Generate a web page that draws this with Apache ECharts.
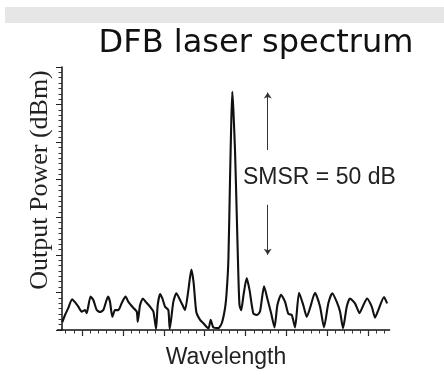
<!DOCTYPE html>
<html><head><meta charset="utf-8">
<script src="https://cdn.jsdelivr.net/npm/echarts@6/dist/echarts.min.js"></script>
<style>html,body{margin:0;padding:0;background:#fff}#c{width:444px;height:375px}</style>
</head><body><div id="c"></div>
<script>
// Wavelength (arbitrary units, 1 unit = 1 minor tick) and output power (dBm, estimated)
const wavelength = [-2.41,-2.08,-1.67,-1.22,-0.86,-0.45,-0.04,0.37,0.57,1.04,1.38,1.80,2.20,2.60,3.18,3.42,3.70,4.03,4.44,4.85,
  5.32,5.66,6.27,6.69,6.81,7.09,7.43,7.79,8.31,8.72,9.05,9.25,9.54,9.82,10.15,10.55,10.72,11.16,11.53,11.98,
  12.38,12.59,13.00,13.36,13.63,13.97,14.43,14.83,15.24,15.46,15.73,16.05,16.66,17.08,17.48,17.67,17.89,18.09,18.25,18.37,
  18.50,18.70,18.91,19.11,19.25,19.46,19.74,20.13,20.48,20.94,21.39,21.76,22.25,22.65,23.11,23.53,23.88,24.33,24.82,25.22,
  25.64,26.04,26.53,27.05,27.47,27.87,28.48,29.10,29.58,30.11,30.59,31.14,31.54,31.91,32.36,32.76,33.37,33.92,34.39,34.84,
  35.42,35.82,36.22,36.92,37.29];
const power = [-67.9,-66.0,-64.1,-61.8,-62.6,-63.8,-65.1,-64.7,-65.5,-61.1,-62.0,-64.7,-65.2,-64.7,-61.1,-62.5,-66.5,-64.7,-64.7,-62.8,
  -61.1,-62.5,-64.1,-65.1,-67.8,-63.4,-61.6,-62.5,-63.8,-65.1,-69.7,-63.4,-60.4,-61.6,-63.8,-64.7,-69.7,-62.5,-60.2,-62.0,
  -63.8,-64.7,-59.4,-53.9,-57.2,-65.2,-67.3,-68.2,-69.2,-69.6,-67.3,-69.3,-69.5,-68.2,-64.2,-60.2,-51.4,-30.1,-14.1,-6.6,
  -11.4,-22.1,-38.9,-55.4,-63.4,-64.7,-60.7,-56.2,-59.4,-65.6,-66.0,-65.1,-58.4,-61.6,-65.5,-69.3,-63.4,-60.6,-62.5,-65.7,
  -66.0,-69.3,-60.1,-63.4,-66.5,-64.2,-60.1,-63.8,-69.3,-62.9,-60.2,-62.5,-65.1,-69.5,-63.8,-61.6,-62.9,-65.5,-63.4,-61.6,
  -63.8,-66.7,-64.7,-61.2,-62.9];
const majorTicks = [0, 5, 10, 15, 20, 25, 30, 35];
const minorTicks = [];
for (let v = -2; v <= 37; v++) minorTicks.push(v);
const smsrX = 22.7;
const smsrUpper = [-22.1, -6.8];   // arrow pointing up to the main mode
const smsrLower = [-36.7, -50.0];  // arrow pointing down to the side modes
const titleText = 'DFB laser spectrum';
const smsrText = 'SMSR = 50 dB';
const xName = 'Wavelength';
const yName = 'Output Power (dBm)';

const chart = echarts.init(document.getElementById('c'), null, {renderer: 'canvas'});
const data = wavelength.map((w, i) => [w, power[i]]);
chart.setOption({
  animation: false,
  backgroundColor: '#fff',
  grid: {left: 57.5, right: 54.4, top: 67, bottom: 45},
  xAxis: [{
    type: 'value', min: -3, max: 37.6, position: 'bottom',
    axisLine: {show: true, onZero: false, lineStyle: {color: '#111', width: 1.5}},
    axisTick: {show: true, customValues: majorTicks, length: 6, lineStyle: {color: '#222', width: 1.2}},
    axisLabel: {show: false}, splitLine: {show: false}
  }, {
    type: 'value', min: -3, max: 37.6, position: 'bottom',
    axisLine: {show: false, onZero: false},
    axisTick: {show: true, customValues: minorTicks, length: 3.5, lineStyle: {color: '#333', width: 1}},
    axisLabel: {show: false}, splitLine: {show: false}
  }],
  yAxis: {
    type: 'value', min: -70, max: 0, interval: 10, offset: -4.5,
    axisLine: {show: true, onZero: false, lineStyle: {color: '#111', width: 1.5}},
    axisTick: {show: true, length: 6, lineStyle: {color: '#222'}},
    minorTick: {show: true, splitNumber: 7, length: 3.5, lineStyle: {color: '#333'}},
    axisLabel: {show: false}, splitLine: {show: false}
  },
  series: [{
    type: 'line', data: data, showSymbol: false, smooth: 0.2,
    lineStyle: {color: '#111', width: 2.1},
    markLine: {
      silent: true, symbol: ['none', 'arrow'], symbolSize: 6,
      label: {show: false},
      lineStyle: {color: '#333', width: 1, type: 'solid'},
      data: [
        [{coord: [smsrX, smsrUpper[0]]}, {coord: [smsrX, smsrUpper[1]]}],
        [{coord: [smsrX, smsrLower[0]]}, {coord: [smsrX, smsrLower[1]]}]
      ]
    }
  }],
  graphic: [
    {type: 'rect', shape: {x: 5, y: 7, width: 439, height: 16}, style: {fill: '#e6e6e6'}, silent: true},
    {type: 'text', x: 256, y: 44, style: {text: titleText, font: '32px "DejaVu Sans"', fill: '#111', textAlign: 'center', textVerticalAlign: 'middle'}},
    {type: 'text', x: 243, y: 178, style: {text: smsrText, font: '23px "Liberation Sans"', fill: '#222', textAlign: 'left', textVerticalAlign: 'middle'}},
    {type: 'text', x: 226, y: 358, style: {text: xName, font: '23px "Liberation Sans"', fill: '#222', textAlign: 'center', textVerticalAlign: 'middle'}},
    {type: 'text', x: 40, y: 180, rotation: Math.PI / 2, style: {text: yName, font: '26px "Liberation Serif"', fill: '#222', textAlign: 'center', textVerticalAlign: 'middle'}}
  ]
});
</script>
</body></html>
